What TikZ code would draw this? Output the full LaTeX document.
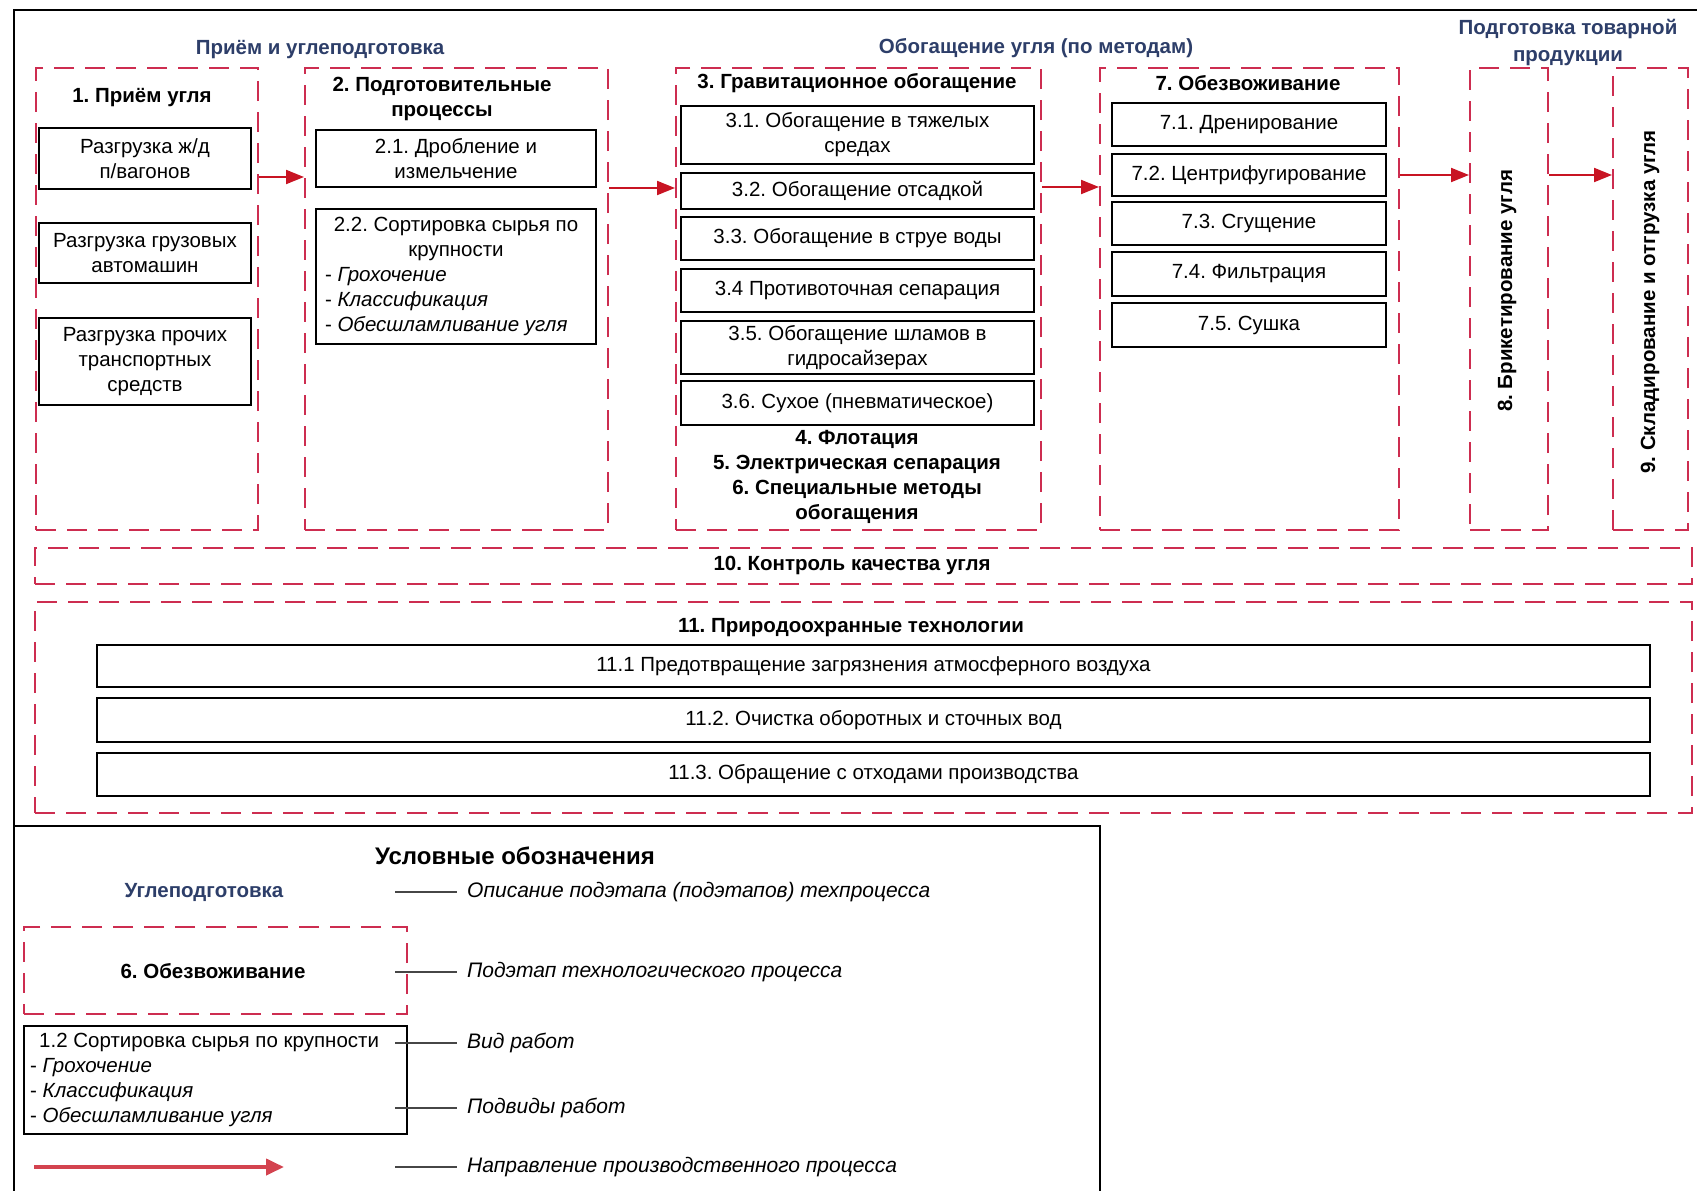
\documentclass[tikz,border=0pt]{standalone}
\usepackage{fontspec}
\setmainfont{Liberation Sans}
\usetikzlibrary{arrows.meta}
\frenchspacing
\definecolor{dashred}{RGB}{205,45,80}
\definecolor{arrred}{RGB}{200,20,35}
\definecolor{navy}{RGB}{45,62,105}
\definecolor{lggray}{RGB}{70,70,70}
\newcommand{\mynf}{\fontsize{20.5}{25}\selectfont}
\tikzset{
  every node/.style={font=\mynf, inner sep=2pt},
  dbox/.style={draw=dashred, line width=2pt, dash pattern=on 20pt off 11pt},
  sbox/.style={draw=black, line width=1.8pt, align=center},
  ttl/.style={font=\mynf\bfseries, align=center},
  sect/.style={font=\mynf\bfseries, text=navy, align=center},
  arr/.style={draw=arrred, line width=2pt, -{Triangle[length=18pt,width=14pt]}},
  lgline/.style={draw=lggray, line width=2pt},
  lgtext/.style={font=\fontsize{21}{25}\selectfont\itshape, anchor=west, inner xsep=10pt},
  frame/.style={draw=black, line width=1.5pt}
}
\begin{document}
\begin{tikzpicture}[x=1pt,y=-1pt]
\useasboundingbox (0,0) rectangle (1697,1191);
% outer frame
\draw[frame] (14,1191) -- (14,10) -- (1697,10);
% section titles
\node[sect] (s1) at (320,50) {Приём и углеподготовка};
\node[sect] (s2) at (1036,48) {Обогащение угля (по методам)};
\node[sect, text depth=0pt] (s3) at (1568,40) {Подготовка товарной\\[2pt]продукции};
% dashed stage boxes
\node[dbox, minimum width=222pt, minimum height=462pt] (d1) at (147,299) {};
\node[dbox, minimum width=303pt, minimum height=462pt] (d2) at (456.5,299) {};
\node[dbox, minimum width=365pt, minimum height=462pt] (d3) at (858.5,299) {};
\node[dbox, minimum width=299pt, minimum height=462pt] (d7) at (1249.5,299) {};
\node[dbox, minimum width=78pt, minimum height=462pt] (d8) at (1509,299) {};
\node[dbox, minimum width=75pt, minimum height=462pt] (d9) at (1650.5,299) {};
\node[dbox, minimum width=1657pt, minimum height=36pt] (d10) at (863.5,566) {};
\node[dbox, minimum width=1657pt, minimum height=211pt] (d11) at (863.5,707.5) {};
% stage titles
\node[ttl] (t1) at (142,98) {1. Приём угля};
\node[ttl] (t2) at (442,98.5) {2. Подготовительные\\процессы};
\node[ttl] (t3) at (857,83) {3. Гравитационное обогащение};
\node[ttl] (t456) at (857,476.5) {4. Флотация\\5. Электрическая сепарация\\6. Специальные методы\\обогащения};
\node[ttl] (t7) at (1248,83) {7. Обезвоживание};
\node[ttl, rotate=90] (t8) at (1507,291) {8. Брикетирование угля};
\node[ttl, rotate=90] (t9) at (1650,302) {9. Складирование и отгрузка угля};
\node[ttl] (t10) at (852,565) {10. Контроль качества угля};
\node[ttl] (t11) at (851,628) {11. Природоохранные технологии};
% column 1
\node[sbox, minimum width=212pt, minimum height=61pt] (a1) at (145,158.5) {Разгрузка ж/д\\п/вагонов};
\node[sbox, minimum width=212pt, minimum height=60pt] (a2) at (145,253) {Разгрузка грузовых\\автомашин};
\node[sbox, minimum width=212pt, minimum height=87pt] (a3) at (145,361.5) {Разгрузка прочих\\транспортных\\средств};
% column 2
\node[sbox, minimum width=280pt, minimum height=57pt] (b1) at (456,158.5) {2.1. Дробление и\\измельчение};
\node[sbox, align=left, minimum width=280pt, minimum height=135pt] (b2) at (456,276.5)
  {\makebox[262pt][c]{2.2. Сортировка сырья по}\\\makebox[262pt][c]{крупности}\\- \textit{Грохочение}\\- \textit{Классификация}\\- \textit{Обесшламливание угля}};
% column 3
\node[sbox, minimum width=353pt, minimum height=58pt] (c1) at (857.5,135) {3.1. Обогащение в тяжелых\\средах};
\node[sbox, minimum width=353pt, minimum height=36pt] (c2) at (857.5,191) {3.2. Обогащение отсадкой};
\node[sbox, minimum width=353pt, minimum height=43pt] (c3) at (857.5,238.5) {3.3. Обогащение в струе воды};
\node[sbox, minimum width=353pt, minimum height=43pt] (c4) at (857.5,290.5) {3.4 Противоточная сепарация};
\node[sbox, minimum width=353pt, minimum height=53pt] (c5) at (857.5,347.5) {3.5. Обогащение шламов в\\гидросайзерах};
\node[sbox, minimum width=353pt, minimum height=44pt] (c6) at (857.5,403) {3.6. Сухое (пневматическое)};
% column 7
\node[sbox, minimum width=274pt, minimum height=43pt] (e1) at (1249,124.5) {7.1. Дренирование};
\node[sbox, minimum width=274pt, minimum height=42pt] (e2) at (1249,175) {7.2. Центрифугирование};
\node[sbox, minimum width=274pt, minimum height=43pt] (e3) at (1249,223.5) {7.3. Сгущение};
\node[sbox, minimum width=274pt, minimum height=44pt] (e4) at (1249,274) {7.4. Фильтрация};
\node[sbox, minimum width=274pt, minimum height=44pt] (e5) at (1249,325) {7.5. Сушка};
% row 11
\node[sbox, minimum width=1553pt, minimum height=42pt] (f1) at (873.5,666) {11.1 Предотвращение загрязнения атмосферного воздуха};
\node[sbox, minimum width=1553pt, minimum height=44pt] (f2) at (873.5,720) {11.2. Очистка оборотных и сточных вод};
\node[sbox, minimum width=1553pt, minimum height=43pt] (f3) at (873.5,774.5) {11.3. Обращение с отходами производства};
% process arrows
\coordinate (ya) at (0,177);
\coordinate (yb) at (0,188);
\coordinate (yc) at (0,187);
\coordinate (yd) at (0,175);
\draw[arr] (d1.east |- ya) -- (d2.west |- ya);
\draw[arr] (d2.east |- yb) -- (d3.west |- yb);
\draw[arr] (d3.east |- yc) -- (d7.west |- yc);
\draw[arr] (d7.east |- yd) -- (d8.west |- yd);
\draw[arr] (d8.east |- yd) -- (d9.west |- yd);
% legend
\draw[frame] (14,826) -- (1100,826) -- (1100,1191);
\node[font=\fontsize{24}{28}\selectfont\bfseries] (lgt) at (515,856) {Условные обозначения};
\node[sect] (lg1) at (204,892) {Углеподготовка};
\node[dbox, minimum width=383pt, minimum height=87pt] (lg2) at (215.5,970.5) {};
\node[ttl] (lg2t) at (213,971) {6. Обезвоживание};
\node[draw=black, line width=1.8pt, minimum width=383pt, minimum height=108pt] (lg3) at (215.5,1080) {};
\node[anchor=west, align=left, inner sep=0pt] (lg3t) at (30,1080) {\hspace*{9pt}1.2 Сортировка сырья по крупности\\- \textit{Грохочение}\\- \textit{Классификация}\\- \textit{Обесшламливание угля}};
\coordinate (la1) at (34,1167);
\coordinate (la2) at (284,1167);
\draw[draw=arrred!80, line width=4pt, -{Triangle[length=18pt,width=16pt]}] (la1) -- (la2);
\node[lgtext] (tl1) at (457,892) {Описание подэтапа (подэтапов) техпроцесса};
\node[lgtext] (tl2) at (457,972) {Подэтап технологического процесса};
\node[lgtext] (tl3) at (457,1043) {Вид работ};
\node[lgtext] (tl4) at (457,1108) {Подвиды работ};
\node[lgtext] (tl5) at (457,1167) {Направление производственного процесса};
\coordinate (lc1) at (395,892);
\coordinate (lc2) at (395,972);
\coordinate (lc3) at (395,1043);
\coordinate (lc4) at (395,1108);
\coordinate (lc5) at (395,1167);
\draw[lgline] (lc1) -- (tl1.west);
\draw[lgline] (lc2) -- (tl2.west);
\draw[lgline] (lc3) -- (tl3.west);
\draw[lgline] (lc4) -- (tl4.west);
\draw[lgline] (lc5) -- (tl5.west);
\end{tikzpicture}
\end{document}
